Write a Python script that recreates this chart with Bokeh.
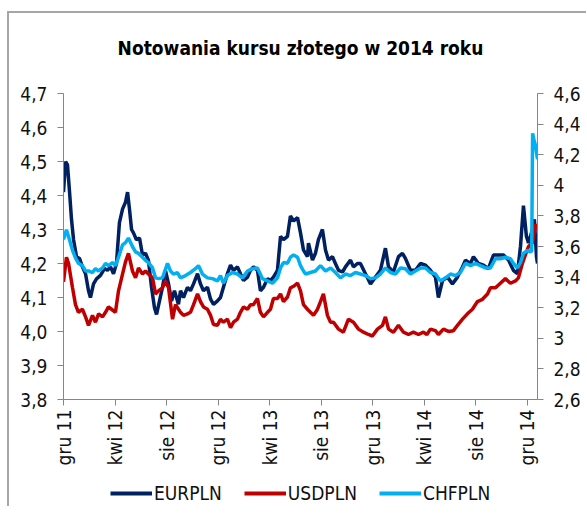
import math
from bokeh.plotting import figure
from bokeh.layouts import column
from bokeh.models import (Range1d, LinearAxis, FixedTicker, CustomJSTickFormatter,
                          Legend, LegendItem, Label)
from bokeh.embed import file_html
from bokeh.resources import INLINE

# x = months since 1 Dec 2011
tick_pos = [0, 4, 8, 12, 16, 20, 24, 28, 32, 36]
tick_labels = ["gru 11", "kwi 12", "sie 12", "gru 12", "kwi 13", "sie 13",
               "gru 13", "kwi 14", "sie 14", "gru 14"]
left_ticks = [3.8, 3.9, 4.0, 4.1, 4.2, 4.3, 4.4, 4.5, 4.6, 4.7]
right_ticks = [2.6, 2.8, 3.0, 3.2, 3.4, 3.6, 3.8, 4.0, 4.2, 4.4, 4.6]

eur_t = [0.00, 0.16, 0.31, 0.47, 0.62, 0.78, 1.01, 1.24, 1.47, 1.71, 1.94, 2.09, 2.33, 2.56, 2.87,
         3.18, 3.41, 3.65, 3.88, 4.11, 4.34, 4.58, 4.81, 4.97, 5.12, 5.28, 5.43, 5.66, 5.90, 6.13,
         6.36, 6.59, 6.83, 7.06, 7.22, 7.45, 7.68, 7.91, 8.15, 8.38, 8.61, 8.92, 9.08, 9.31, 9.62,
         9.85, 10.09, 10.40, 10.63, 10.86, 11.17, 11.41, 11.64, 11.95, 12.18, 12.41, 12.72, 12.96,
         13.19, 13.50, 13.73, 13.97, 14.28, 14.51, 14.74, 15.05, 15.28, 15.52, 15.83, 16.06, 16.29,
         16.60, 16.84, 17.07, 17.38, 17.61, 17.85, 18.16, 18.39, 18.62, 18.93, 19.01, 19.32, 19.55,
         19.78, 20.09, 20.33, 20.56, 20.87, 21.10, 21.34, 21.65, 21.88, 22.27, 22.50, 22.81, 23.04,
         23.43, 23.82, 24.21, 24.59, 24.98, 25.22, 25.60, 25.99, 26.30, 26.53, 26.92, 27.31, 27.70,
         28.09, 28.47, 28.86, 29.09, 29.41, 29.79, 30.18, 30.57, 30.96, 31.19, 31.58, 31.81, 32.20,
         32.59, 32.97, 33.36, 33.75, 34.14, 34.53, 34.91, 35.22, 35.46, 35.69, 35.92, 36.08, 36.39,
         36.54, 36.70, 36.78]
eur_v = [4.41, 4.50, 4.49, 4.41, 4.33, 4.27, 4.22, 4.215, 4.19, 4.17, 4.12, 4.10, 4.14, 4.155, 4.165,
         4.185, 4.18, 4.19, 4.17, 4.20, 4.32, 4.36, 4.38, 4.41, 4.36, 4.30, 4.29, 4.27, 4.275, 4.225,
         4.23, 4.21, 4.13, 4.07, 4.05, 4.09, 4.13, 4.18, 4.14, 4.09, 4.12, 4.08, 4.12, 4.10, 4.13,
         4.12, 4.14, 4.17, 4.14, 4.12, 4.13, 4.095, 4.08, 4.09, 4.10, 4.13, 4.17, 4.195,
         4.18, 4.19, 4.17, 4.15, 4.16, 4.18, 4.19, 4.18, 4.12, 4.13, 4.155, 4.15, 4.16,
         4.18, 4.28, 4.27, 4.28, 4.34, 4.325, 4.335, 4.29, 4.24, 4.22, 4.26, 4.21, 4.23,
         4.27, 4.30, 4.24, 4.21, 4.22, 4.20, 4.18, 4.175, 4.19, 4.21, 4.19, 4.20, 4.20,
         4.17, 4.14, 4.16, 4.18, 4.245, 4.19, 4.175, 4.22, 4.23, 4.215, 4.18, 4.18, 4.20,
         4.195, 4.18, 4.16, 4.10, 4.15, 4.16, 4.14, 4.16, 4.19, 4.21, 4.20, 4.22, 4.20,
         4.195, 4.185, 4.225, 4.225, 4.225, 4.21, 4.18, 4.17, 4.25, 4.37, 4.28, 4.26, 4.30,
         4.33, 4.22, 4.20]

usd_t = [0.00, 0.23, 0.39, 0.70, 0.93, 1.16, 1.47, 1.71, 1.94, 2.25, 2.48, 2.72, 3.03, 3.26, 3.49,
         3.80, 4.03, 4.27, 4.58, 4.81, 5.04, 5.35, 5.59, 5.82, 6.13, 6.36, 6.59, 6.91, 7.14, 7.37,
         7.68, 7.91, 8.15, 8.46, 8.69, 9.08, 9.31, 9.62, 9.85, 10.09, 10.40, 10.63, 10.86, 11.17,
         11.41, 11.64, 11.95, 12.18, 12.41, 12.72, 12.96, 13.19, 13.50, 13.73, 13.97, 14.28, 14.51,
         14.74, 15.05, 15.28, 15.52, 15.83, 16.06, 16.29, 16.60, 16.84, 17.07, 17.38, 17.61, 17.85,
         18.16, 18.39, 18.62, 18.93, 19.16, 19.40, 19.71, 19.94, 20.17, 20.48, 20.72, 20.95, 21.34,
         21.72, 22.11, 22.50, 22.89, 23.28, 23.66, 23.97, 24.36, 24.75, 24.98, 25.22, 25.60, 25.99,
         26.38, 26.77, 27.15, 27.54, 27.93, 28.20, 28.47, 28.86, 29.09, 29.48, 29.87, 30.26, 30.57,
         30.96, 31.34, 31.73, 32.12, 32.51, 32.90, 33.13, 33.52, 33.90, 34.29, 34.68, 35.07, 35.30,
         35.61, 35.84, 36.08, 36.39, 36.62, 36.78]
usd_v = [3.37, 3.53, 3.49, 3.33, 3.22, 3.17, 3.19, 3.14, 3.085, 3.15, 3.105, 3.16, 3.14, 3.17, 3.205,
         3.185, 3.17, 3.31, 3.42, 3.50, 3.555, 3.44, 3.395, 3.46, 3.42, 3.44, 3.42, 3.395, 3.29, 3.31,
         3.33, 3.375, 3.33, 3.125, 3.22, 3.17, 3.15, 3.16, 3.17, 3.22, 3.29, 3.24, 3.205, 3.19,
         3.15, 3.09, 3.085, 3.125, 3.105, 3.125, 3.07, 3.105, 3.125, 3.17, 3.205, 3.19, 3.22,
         3.22, 3.26, 3.17, 3.14, 3.17, 3.19, 3.26, 3.26, 3.29, 3.24, 3.27, 3.33, 3.34,
         3.36, 3.31, 3.22, 3.19, 3.17, 3.15, 3.19, 3.24, 3.29, 3.15, 3.105, 3.105, 3.06,
         3.04, 3.125, 3.105, 3.06, 3.04, 3.025, 3.015, 3.06, 3.085, 3.14, 3.06, 3.04, 3.085,
         3.04, 3.025, 3.04, 3.025, 3.04, 3.025, 3.06, 3.05, 3.025, 3.06, 3.045, 3.05, 3.085,
         3.125, 3.16, 3.19, 3.24, 3.255, 3.29, 3.33, 3.33, 3.36, 3.39, 3.36, 3.375, 3.395,
         3.49, 3.545, 3.60, 3.625, 3.745, 3.71]

chf_t = [0.00, 0.23, 0.39, 0.70, 0.93, 1.16, 1.47, 1.71, 1.94, 2.25, 2.48, 2.72, 3.03, 3.26, 3.49,
         3.80, 4.03, 4.27, 4.58, 4.81, 5.04, 5.35, 5.59, 5.82, 6.13, 6.36, 6.59, 6.91, 7.14, 7.37,
         7.68, 8.07, 8.30, 8.53, 8.84, 9.08, 9.47, 9.85, 10.24, 10.47, 10.78, 11.17, 11.56, 11.95,
         12.18, 12.41, 12.72, 13.11, 13.50, 13.89, 14.28, 14.66, 15.05, 15.44, 15.83, 16.22, 16.60,
         16.84, 17.07, 17.38, 17.61, 17.85, 18.16, 18.39, 18.62, 18.78, 19.16, 19.55, 19.94, 20.33,
         20.72, 21.10, 21.49, 21.88, 22.27, 22.66, 23.04, 23.43, 23.82, 24.21, 24.59, 24.98, 25.37,
         25.76, 26.15, 26.53, 26.92, 27.31, 27.70, 28.09, 28.47, 28.86, 29.25, 29.64, 30.03, 30.41,
         30.80, 31.19, 31.58, 31.97, 32.35, 32.74, 33.13, 33.52, 33.90, 34.29, 34.68, 34.91, 35.22,
         35.46, 35.69, 36.00, 36.23, 36.33, 36.40, 36.50, 36.62, 36.78]
chf_v = [3.645, 3.71, 3.665, 3.575, 3.525, 3.49, 3.475, 3.44, 3.44, 3.43, 3.455, 3.44, 3.46, 3.49, 3.475,
         3.495, 3.475, 3.53, 3.61, 3.625, 3.655, 3.60, 3.565, 3.555, 3.53, 3.51, 3.495, 3.46, 3.395, 3.39,
         3.395, 3.49, 3.44, 3.42, 3.43, 3.395, 3.41, 3.43, 3.455, 3.475, 3.42, 3.395, 3.39, 3.375,
         3.41, 3.36, 3.41, 3.43, 3.42, 3.395, 3.44, 3.455, 3.46, 3.39, 3.375, 3.36, 3.395,
         3.46, 3.495, 3.49, 3.53, 3.545, 3.53, 3.475, 3.44, 3.42, 3.43, 3.44, 3.475, 3.44,
         3.46, 3.43, 3.395, 3.42, 3.41, 3.43, 3.42, 3.41, 3.39, 3.395, 3.42, 3.46, 3.43,
         3.42, 3.46, 3.455, 3.42, 3.44, 3.46, 3.46, 3.43, 3.42, 3.375, 3.395, 3.42, 3.41,
         3.43, 3.49, 3.475, 3.49, 3.475, 3.46, 3.46, 3.52, 3.52, 3.53, 3.52, 3.49, 3.46,
         3.495, 3.555, 3.575, 3.565, 3.57, 4.34, 4.30, 4.26, 4.17]

title_text = "Notowania kursu złotego w 2014 roku"
series_names = ["EURPLN", "USDPLN", "CHFPLN"]
series_colors = ["#002060", "#C00000", "#00B0F0"]

FONT = "DejaVu Sans Condensed"


def strip_figure(h):
    f = figure(width=577, height=h, output_backend="svg", toolbar_location=None,
               x_range=Range1d(0, 1), y_range=Range1d(0, 1),
               min_border_left=0, min_border_right=0, min_border_top=0, min_border_bottom=0)
    f.axis.visible = False
    f.grid.visible = False
    f.outline_line_color = None
    f.background_fill_color = "white"
    f.border_fill_color = "white"
    return f


# title strip
tt = strip_figure(60)
tt.add_layout(Label(x=0.5, y=0.43, text=title_text, text_align="center",
                    text_baseline="alphabetic", text_font=FONT, text_font_size="19px",
                    text_font_style="bold", text_color="#000000"))

# main chart
p = figure(width=577, height=395, output_backend="svg", toolbar_location=None,
           x_range=Range1d(0, 36.78), y_range=Range1d(3.8, 4.7),
           min_border_left=54, min_border_right=49, min_border_top=20, min_border_bottom=63)
p.extra_y_ranges = {"right": Range1d(2.6, 4.6)}
p.xgrid.visible = False
p.ygrid.visible = False
p.outline_line_color = None
p.background_fill_color = "white"
p.border_fill_color = "white"

axis_color = "#868686"

def style_axis(ax):
    ax.axis_line_color = axis_color
    ax.axis_line_width = 1
    ax.major_tick_line_color = axis_color
    ax.major_tick_in = 0
    ax.major_tick_out = 6
    ax.minor_tick_line_color = None
    ax.major_label_text_font = FONT
    ax.major_label_text_font_size = "19px"
    ax.major_label_text_color = "#111111"

ax = p.xaxis[0]
style_axis(ax)
ax.ticker = FixedTicker(ticks=tick_pos)
ax.major_label_overrides = {tp: lab for tp, lab in zip(tick_pos, tick_labels)}
ax.major_label_orientation = math.pi / 2
ax.major_label_standoff = 4

ay = p.yaxis[0]
style_axis(ay)
ay.ticker = FixedTicker(ticks=left_ticks)
ay.formatter = CustomJSTickFormatter(code="return tick.toFixed(1).replace('.', ',');")
ay.major_label_standoff = 10

ry = LinearAxis(y_range_name="right")
style_axis(ry)
ry.ticker = FixedTicker(ticks=right_ticks)
ry.formatter = CustomJSTickFormatter(
    code="var s = (Math.round(tick*10)/10).toString(); return s.replace('.', ',');")
ry.major_label_standoff = 10
p.add_layout(ry, "right")

p.line(eur_t, eur_v, line_color=series_colors[0], line_width=3.5)
p.line(usd_t, usd_v, line_color=series_colors[1], line_width=3.5, y_range_name="right")
p.line(chf_t, chf_v, line_color=series_colors[2], line_width=3.5, y_range_name="right")

# legend strip below the chart (its sample lines lie outside its visible range)
lg = strip_figure(38)
leg_renderers = [lg.line([5, 6], [5, 6], line_color=c, line_width=4) for c in series_colors]
legend = Legend(items=[LegendItem(label=n, renderers=[r]) for n, r in
                       zip(series_names, leg_renderers)],
                orientation="horizontal", location=(47, 2),
                glyph_width=42, glyph_height=20, label_standoff=2, spacing=22,
                padding=0, margin=0, border_line_color=None, background_fill_alpha=0,
                label_text_font=FONT, label_text_font_size="19px", label_text_color="#111111")
lg.add_layout(legend, "center")

layout = column(tt, p, lg, spacing=0,
                styles={"border-top": "2px solid #a6a6a6", "border-left": "2px solid #a6a6a6",
                        "margin-top": "11px", "margin-left": "7px"})

open("out.html", "w").write(file_html(layout, INLINE))
